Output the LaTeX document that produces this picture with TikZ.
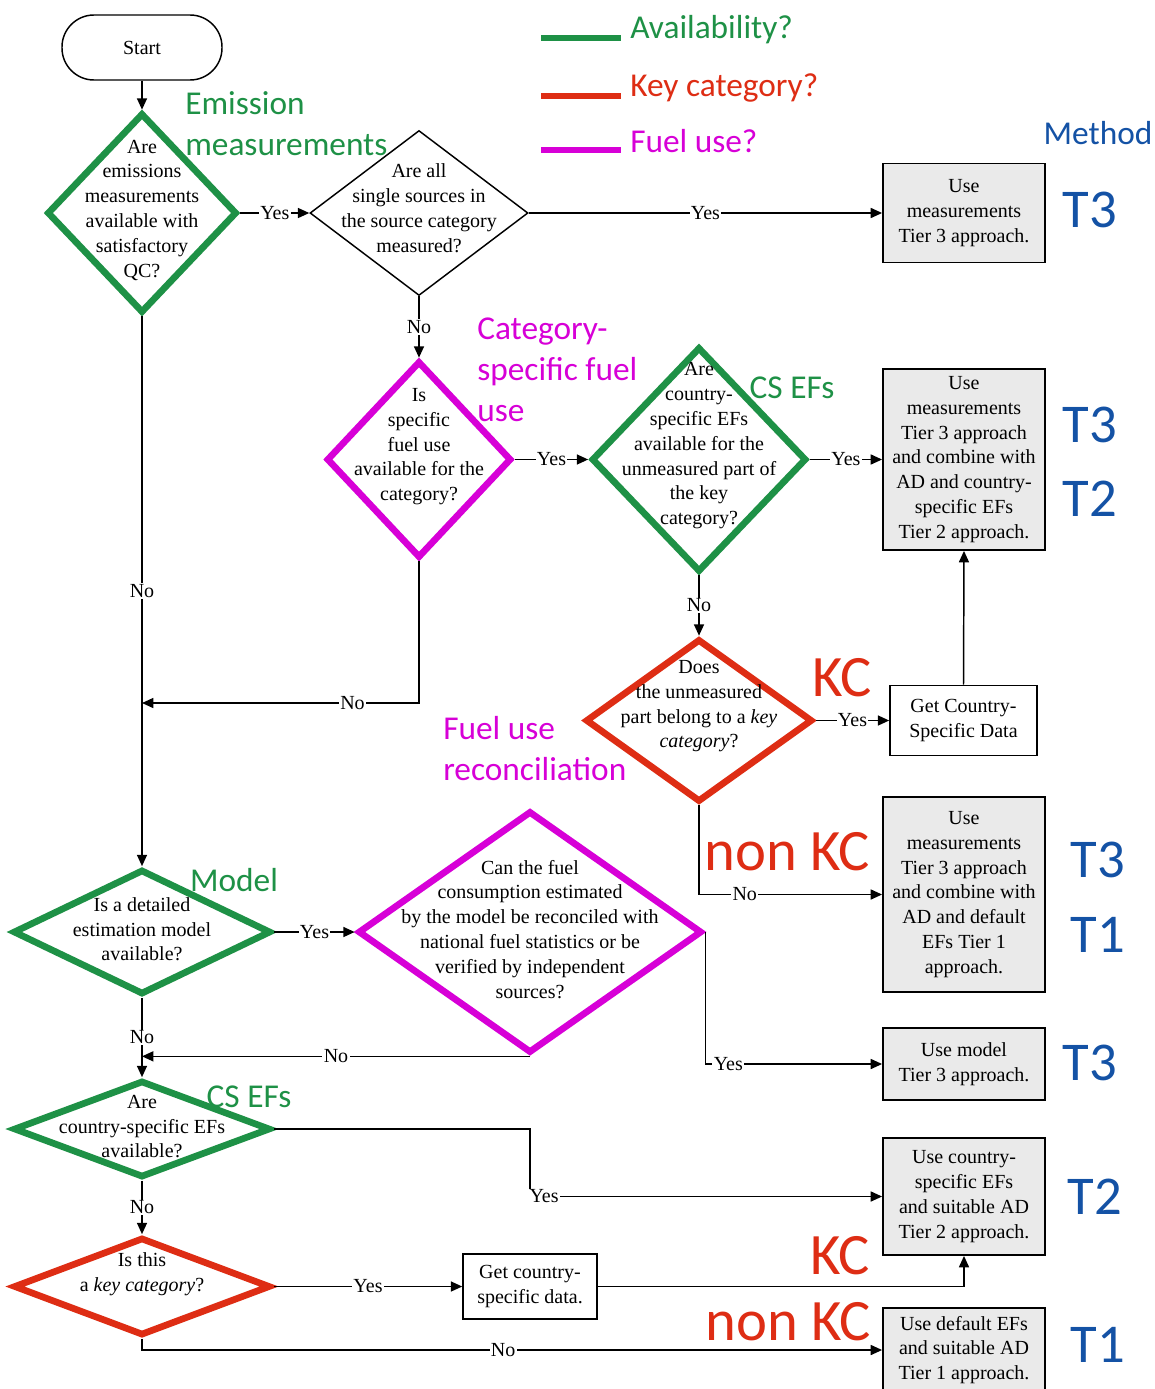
\documentclass[tikz,border=0pt]{standalone}
\usepackage{fontspec}
\setmainfont{Liberation Serif}
\newfontfamily\calfont{Carlito}
\usetikzlibrary{shapes.geometric,arrows.meta}
\definecolor{cgreen}{RGB}{30,145,70}
\definecolor{cred}{RGB}{222,45,20}
\definecolor{cmag}{RGB}{215,0,215}
\definecolor{cblue}{RGB}{20,82,165}
\definecolor{cgray}{RGB}{234,234,234}
\newcommand\dtext[2][0pt]{\smash{\makebox[0pt]{\raisebox{#1}{\begin{tabular}{@{}c@{}}#2\end{tabular}}}}}
\begin{document}
\begin{tikzpicture}[x=0.75pt,y=-0.75pt,
  base/.style={font=\fontsize{15}{18.6}\selectfont},
  dia/.style={base, diamond, draw, inner sep=0pt, line join=miter},
  thickg/.style={draw=cgreen, line width=5pt},
  thickr/.style={draw=cred, line width=5pt},
  thickm/.style={draw=cmag, line width=5pt},
  outbox/.style={base, draw, line width=1.4pt, fill=cgray, align=center, inner sep=0pt},
  getbox/.style={base, draw, line width=1.2pt, fill=white, align=center, inner sep=0pt},
  arr/.style={line width=1.1pt, -{Triangle[length=8.5pt,width=7.5pt]}},
  lab/.style={base, fill=white, inner sep=1pt},
  cat/.style={font=\calfont\fontsize{25}{30.75}\selectfont, align=left, inner sep=0pt},
  big/.style={font=\calfont\fontsize{44}{44}\selectfont, text=cred, inner sep=0pt},
  tier/.style={font=\calfont\fontsize{41}{41}\selectfont, text=cblue, inner sep=0pt},
]
\useasboundingbox (0,0) rectangle (1155,1389);
\fill[white] (0,0) rectangle (1155,1389);

% legend
\draw[cgreen, line width=5pt] (541,38) -- (621,38);
\draw[cred, line width=5pt] (541,96) -- (621,96);
\draw[cmag, line width=5pt] (541,150) -- (621,150);
\node[cat, text=cgreen, anchor=west] (lg1) at (630,30) {Availability?};
\node[cat, text=cred, anchor=west] (lg2) at (630,88) {Key category?};
\node[cat, text=cmag, anchor=west] (lg3) at (630,141) {Fuel use?};

% start
\node[base, draw, line width=1.1pt, rounded corners=24pt, minimum width=120pt, minimum height=48.75pt, inner sep=0pt] (start) at (142,47.5) {Start};

% decisions
\node[dia, thickg, minimum width=142.5pt, minimum height=150pt] (d1) at (142,213) {\dtext[-1.5pt]{Are\\emissions\\measurements\\available with\\satisfactory\\QC?}};
\node[dia, line width=1.1pt, minimum width=163.5pt, minimum height=123.75pt] (d2) at (419,213) {\dtext[-1.5pt]{Are all\\single sources in\\the source category\\measured?}};
\node[dia, thickm, minimum width=138.75pt, minimum height=147.75pt] (d3) at (419,459.5) {\dtext[6.5pt]{Is\\specific\\fuel use\\available for the\\category?}};
\node[dia, thickg, minimum width=161.25pt, minimum height=168.75pt] (d4) at (699,459.5) {\dtext[7pt]{Are\\country-\\specific EFs\\available for the\\unmeasured part of\\the key\\category?}};
\node[dia, thickr, minimum width=170.25pt, minimum height=122.25pt] (d5) at (699,720.5) {\dtext[7.5pt]{Does\\the unmeasured\\part belong to a \textit{key}\\\textit{category}?}};
\node[dia, thickg, minimum width=193.5pt, minimum height=93.75pt] (d6) at (142,932) {\dtext[-3pt]{Is a detailed\\estimation model\\available?}};
\node[dia, thickm, minimum width=258pt, minimum height=181.5pt] (d7) at (530,932) {\dtext[-3pt]{Can the fuel\\consumption estimated\\by the model be reconciled with\\national fuel statistics or be\\verified by independent\\sources?}};
\node[dia, thickg, minimum width=192.75pt, minimum height=72.75pt] (d8) at (142,1129) {\dtext[-3pt]{Are\\country-specific EFs\\available?}};
\node[dia, thickr, minimum width=192.75pt, minimum height=73.5pt] (d9) at (142,1286.5) {\dtext[6pt]{Is this\\a \textit{key category}?}};

% boxes
\node[outbox, minimum width=121.5pt, minimum height=74.25pt] (b1) at (964,213) {Use\\measurements\\Tier 3 approach.};
\node[outbox, minimum width=121.5pt, minimum height=135.75pt] (b2) at (964,459.5) {Use\\measurements\\Tier 3 approach\\and combine with\\AD and country-\\specific EFs\\Tier 2 approach.};
\node[getbox, minimum width=110.25pt, minimum height=52.5pt] (b3) at (963.5,720.5) {Get Country-\\Specific Data};
\node[outbox, minimum width=121.5pt, minimum height=146.25pt] (b4) at (964,894.5) {Use\\measurements\\Tier 3 approach\\and combine with\\AD and default\\EFs Tier 1\\approach.};
\node[outbox, minimum width=121.5pt, minimum height=54pt] (b5) at (964,1064) {Use model\\Tier 3 approach.};
\node[outbox, minimum width=121.5pt, minimum height=87.75pt] (b6) at (964,1196.5) {Use country-\\specific EFs\\and suitable AD\\Tier 2 approach.};
\node[getbox, minimum width=100.5pt, minimum height=48.75pt] (b7) at (530,1286.5) {Get country-\\specific data.};
\node[outbox, minimum width=121.5pt, minimum height=63pt] (b8) at (964,1350) {Use default EFs\\and suitable AD\\Tier 1 approach.};

% connectors
\coordinate (j1) at (142,703);
\coordinate (k1) at (530,1129);
\draw[arr] (start) -- (d1);
\draw[arr] (d1.east) -- node[lab]{Yes} (d2.west);
\draw[arr] (d2.east) -- node[lab]{Yes} (b1.west);
\draw[arr] (d2.south) -- node[lab]{No} (d3.north);
\draw[arr] (d3.east) -- node[lab]{Yes} (d4.west);
\draw[arr] (d4.east) -- node[lab]{Yes} (b2.west);
\draw[arr] (d4.south) -- node[lab]{No} (d5.north);
\draw[arr] (d5.east) -- node[lab]{Yes} (b3.west);
\draw[arr] (b3.north) -- (b2.south);
\draw[arr] (d5.south) |- node[lab,pos=.625]{No} (b4.west);
\draw[arr] (d3.south) |- node[lab,pos=.62]{No} (j1);
\draw[arr] (d1.south) -- node[lab,pos=.5]{No} (d6.north);
\draw[arr] (d6.east) -- node[lab]{Yes} (d7.west);
\draw[arr] (d7.east) |- node[lab,pos=.565]{Yes} (b5.west);
\draw[arr] (d7.south) -- node[lab]{No} (d7.south -| d1.south);
\draw[arr] (d6.south) -- node[lab]{No} (d8.north);
\draw[arr] (d8.east) -- (k1) |- node[lab,pos=.52]{Yes} (b6.west);
\draw[arr] (d8.south) -- node[lab]{No} (d9.north);
\draw[arr] (d9.east) -- node[lab]{Yes} (b7.west);
\draw[arr] (b7.east) -| (b6.south);
\draw[arr] (d9.south) |- node[lab,pos=.744]{No} (b8.west);

% category labels
\node[cat, text=cgreen, anchor=west] (em) at (185,123.5) {Emission\\measurements};
\node[cat, text=cmag, anchor=west] (csf) at (477,370) {Category-\\specific fuel\\use};
\node[cat, text=cgreen] (cs1) at (792,388) {CS EFs};
\node[cat, text=cmag, anchor=west] (fur) at (443,749) {Fuel use\\reconciliation};
\node[cat, text=cgreen] (mod) at (234,880) {Model};
\node[cat, text=cgreen] (cs2) at (249,1097) {CS EFs};
\node[cat, text=cblue] (meth) at (1098,133) {Method};

\node[big] (kc1) at (842,678) {KC};
\node[big] (nkc1) at (787,852) {non KC};
\node[big] (kc2) at (840,1256) {KC};
\node[big] (nkc2) at (788,1322) {non KC};

\node[tier] (t1) at (1090,210) {T3};
\node[tier] (t2) at (1090,425) {T3};
\node[tier] (t3) at (1090,499) {T2};
\node[tier] (t4) at (1098,860) {T3};
\node[tier] (t5) at (1098,935) {T1};
\node[tier] (t6) at (1090,1063) {T3};
\node[tier] (t7) at (1095,1197) {T2};
\node[tier] (t8) at (1098,1345) {T1};
\end{tikzpicture}
\end{document}
